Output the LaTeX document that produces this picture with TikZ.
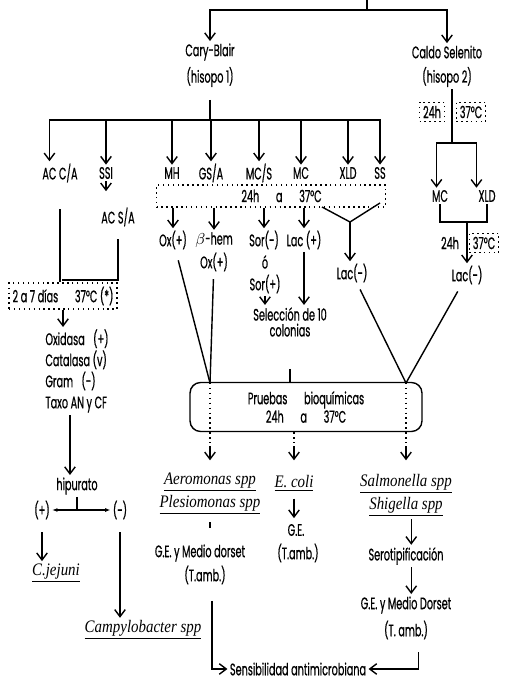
\documentclass[tikz,border=0pt]{standalone}
\usepackage{fontspec}
\setmainfont{Poppins}[FakeStretch=0.58, FakeBold=0.6]
\newfontfamily\spfont{Liberation Serif}[FakeStretch=0.85]
\usetikzlibrary{arrows.meta}

\begin{document}
\begin{tikzpicture}[x=0.02cm, y=-0.02cm, line width=0.8pt,
    txt/.style={inner sep=1pt, font=\fontsize{9.5}{12}\selectfont},
    spp/.style={inner sep=1pt, font=\spfont\itshape\fontsize{10}{11}\selectfont},
    dotbox/.style={draw, dotted, inner sep=2pt},
    line/.style={draw, -{Straight Barb[length=4pt,width=6pt]}}]

    \useasboundingbox (0,0) rectangle (504,685);

    % Hisopos
    \coordinate (top) at (367,0);
    \coordinate (split) at (367,10);
    \node [txt] (cary) at (210,52) {Cary-Blair};
    \node [txt] (hisopo1) at (210,77) {(hisopo 1)};
    \node [txt] (caldo) at (447,52) {Caldo Selenito};
    \node [txt] (hisopo2) at (447,77) {(hisopo 2)};
    \draw (top) -- (split);
    \path [line] (split) -| (cary);
    \path [line] (split) -| (caldo);

    % Medios Cary-Blair
    \coordinate (cb) at (210,120);
    \node [txt] (acca) at (60,173) {AC C/A};
    \node [txt] (ssi) at (106,173) {SSI};
    \node [txt] (mh) at (172,173) {MH};
    \node [txt] (gsa) at (211,173) {GS/A};
    \node [txt] (mcs) at (259,173) {MC/S};
    \node [txt] (mc) at (301,173) {MC};
    \node [txt] (xld) at (348,173) {XLD};
    \node [txt] (ss) at (380,173) {SS};
    \draw [shorten <=6pt] (hisopo1) -- (cb);
    \path [line] (cb) -| ([xshift=-6pt]acca.north);
    \foreach \m in {ssi,mh,gsa,mcs,mc,xld,ss}
        \path [line] (cb) -| (\m);

    % Incubacion 24h
    \node [txt, dotbox, minimum width=4.58cm, minimum height=0.44cm] (inc1) at (271,196) {\hspace*{12pt}24h\quad a\quad 37°C};
    \node [txt] (ox1) at (173,240) {Ox(+)};
    \node [txt] (bhem) at (214,240) {$\beta$-hem};
    \node [txt] (ox2) at (214,262) {Ox(+)};
    \node [txt] (sorn) at (264,240) {Sor(-)};
    \node [txt] (o) at (265,262) {ó};
    \node [txt] (sorp) at (265,284) {Sor(+)};
    \node [txt] (lacp) at (304,240) {Lac (+)};
    \node [txt, align=center, font=\fontsize{9.5}{9}\selectfont] (sel) at (290,322) {Selección de 10\\colonias};
    \foreach \m in {ox1,bhem,sorn,lacp}
        \path [line] (inc1.south -| \m) -- (\m);
    \path [line] (sorp) -- (sorp |- sel.north);
    \path [line] (lacp) -- (lacp |- sel.north);

    % XLD y SS
    \coordinate (vl) at (322,207);
    \coordinate (vr) at (380,203);
    \coordinate (vjoin) at (350,222);
    \node [txt] (lacn1) at (352,273) {Lac(-)};
    \draw (vl) -- (vjoin) -- (vr);
    \path [line] (vjoin) -- (vjoin |- lacn1.north);

    % Caldo Selenito
    \coordinate (cs) at (452,143);
    \node [txt, dotbox] (t24a) at (432,112) {24h};
    \node [txt, dotbox] (t37a) at (471,112) {37°C};
    \draw (hisopo2.south -| cs) -- (cs);
    \node [txt] (mc2) at (440,196) {MC};
    \node [txt] (xld2) at (487,196) {XLD};
    \path [line] (cs) -| ([xshift=-2pt]mc2.north);
    \path [line] (cs) -| ([xshift=-6pt]xld2.north);
    \coordinate (j2) at (467,222);
    \draw (mc2) |- (j2) -| (xld2);
    \node [txt] (t24b) at (450,243) {24h};
    \node [txt, dotbox] (t37b) at (484,243) {37°C};
    \node [txt] (lacn2) at (467,275) {Lac(-)};
    \path [line] (j2) -- (lacn2);

    % Pruebas bioquimicas
    \node [txt, draw, rounded corners=6pt, align=center, minimum width=4.64cm, minimum height=0.98cm, font=\fontsize{9.5}{10.5}\selectfont] (pb) at (306,407) {Pruebas\quad bioquímicas\\24h\quad a\quad 37°C};
    \coordinate (pbl) at (210,383);
    \coordinate (pbr) at (406,383);
    \draw [shorten <=5pt] (ox1) -- (pbl);
    \draw [shorten <=3pt] (ox2) -- (pbl);
    \draw [shorten <=3pt] (lacn1) -- (pbr);
    \draw [shorten <=3pt] (lacn2) -- (pbr);
    \draw [shorten <=17pt] (sel) -- (sel |- pb.north);

    % Resultados
    \node [spp] (aero) at (210,482) {\underline{Aeromonas spp}};
    \node [spp] (ples) at (210,505) {\underline{Plesiomonas spp}};
    \node [spp] (ecoli) at (294,483) {\underline{E. coli}};
    \node [spp] (salm) at (406,484) {\underline{Salmonella spp}};
    \node [spp] (shig) at (406,507) {\underline{Shigella spp}};
    \draw [dotted] (pbl) -- ([yshift=-6pt]pb.south -| pbl);
    \draw [dotted] (pbr) -- ([yshift=-6pt]pb.south -| pbr);
    \draw [dotted] (pb.south -| ecoli) -- ([yshift=-6pt]pb.south -| ecoli);
    \foreach \c in {aero,ecoli,salm}
        \path [line] ([yshift=-8pt]pb.south -| \c) -- ([yshift=-16pt]pb.south -| \c);

    % Aeromonas / Plesiomonas
    \node [txt] (gea) at (200,553) {G.E. y Medio dorset};
    \node [txt] (tamba) at (205,575) {(T.amb.)};
    \draw [shorten <=3pt, shorten >=8pt] (ples) -- (ples |- gea.north);
    \node [txt] (sens) at (298,669) {Sensibilidad antimicrobiana};
    \path [line, shorten <=8pt] ([xshift=4pt]tamba.south) |- (sens.west);

    % E. coli
    \node [txt] (ge) at (296,530) {G.E.};
    \node [txt] (tamb) at (298,553) {(T.amb.)};
    \path [line, shorten <=3pt, shorten >=2pt] (ecoli) -- (ecoli |- ge.north);

    % Salmonella / Shigella
    \node [txt] (sero) at (406,556) {Serotipificación};
    \node [txt] (gec) at (406,605) {G.E. y Medio Dorset};
    \node [txt] (tambc) at (406,630) {(T. amb.)};
    \path [line] ([xshift=3pt]shig.south) -- ([xshift=3pt]sero.north);
    \path [line] ([xshift=3pt]sero.south) -- ([xshift=3pt]gec.north);
    \path [line, shorten <=6pt] ([xshift=7pt]tambc.south) |- (sens.east);

    % Campylobacter
    \node [txt] (acsa) at (118,217) {AC S/A};
    \path [line, shorten >=8pt] (ssi) -- (ssi |- acsa.north);
    \node [txt, dotbox] (d7) at (63,296) {2 a 7 días\quad 37°C (*)};
    \node [txt, align=left, anchor=north west] (tests) at (43,327) {Oxidasa\enspace(+)\\Catalasa (v)\\Gram\enspace(-)\\Taxo AN y CF};
    \coordinate (joinL) at (62,280);
    \draw [shorten <=14pt] (acca) -- (acca |- d7.north);
    \draw [shorten <=6pt] (acsa) |- (joinL);
    \path [line] (d7) -- (d7 |- tests.north);
    \node [txt] (hip) at (77,486) {hipurato};
    \path [line] ([xshift=-4pt]tests.south -| hip) -- ([xshift=-4pt]hip.north);
    \node [txt] (pos) at (42,510) {(+)};
    \node [txt] (neg) at (120,510) {(-)};
    \draw [{Latex[length=3pt]}-{Latex[length=3pt]}, line width=0.6pt] (pos) -- (neg);
    \draw (hip) -- (hip |- pos);
    \node [spp] (cjej) at (56,573) {\underline{C.jejuni}};
    \node [spp] (camp) at (143,630) {\underline{Campylobacter spp}};
    \path [line, shorten <=6pt] (pos) -- (pos |- cjej.north);
    \path [line, shorten <=6pt] (neg) -- (neg |- camp.north);

\end{tikzpicture}
\end{document}
